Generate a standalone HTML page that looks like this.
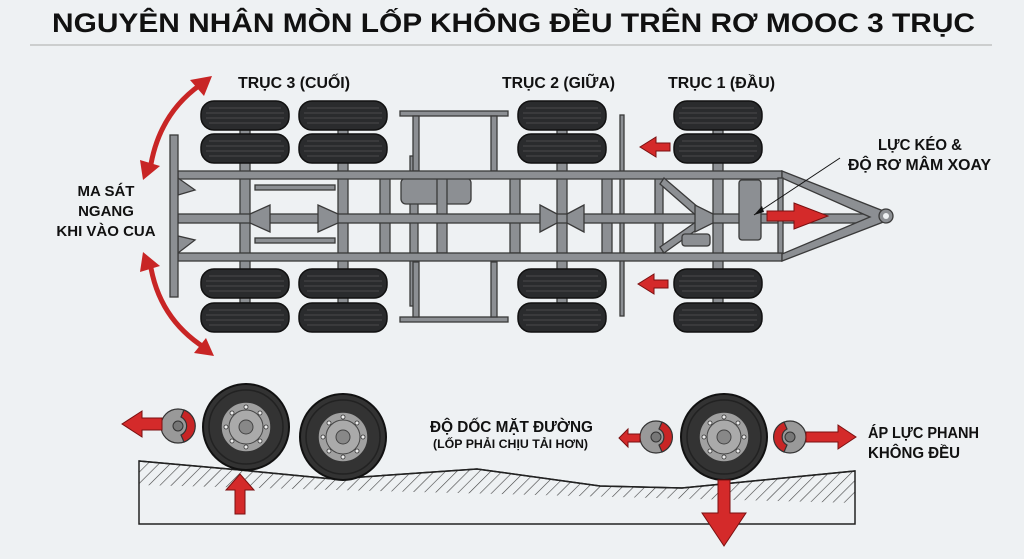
<!DOCTYPE html>
<html><head><meta charset="utf-8"><style>
html,body{margin:0;padding:0;background:#eef1f3;}
svg{display:block;}
text{font-family:"Liberation Sans","Noto Sans CJK SC",sans-serif;font-weight:bold;fill:#111;}
</style></head><body>
<svg width="1024" height="559" viewBox="0 0 1024 559" xmlns="http://www.w3.org/2000/svg">
<defs>
<pattern id="hatch" width="8" height="8" patternUnits="userSpaceOnUse" patternTransform="rotate(45)">
<line x1="0" y1="0" x2="0" y2="8" stroke="#222" stroke-width="1.2"/>
</pattern>
<g id="tire"><rect x="0" y="0" width="88" height="29" rx="13" fill="#2a2b2d" stroke="#111" stroke-width="1.5"/>
<g stroke="#555" stroke-width="0.8"><line x1="8" y1="7" x2="80" y2="7"/><line x1="5" y1="12" x2="83" y2="12"/><line x1="5" y1="17" x2="83" y2="17"/><line x1="8" y1="22" x2="80" y2="22"/></g></g>
<g id="wheel"><circle r="43" fill="#333" stroke="#111" stroke-width="2"/><circle r="37" fill="none" stroke="#222" stroke-width="1.5"/><circle r="25" fill="#a0a0a0" stroke="#333" stroke-width="1.5"/><circle r="17" fill="#aaa" stroke="#444"/><circle r="7" fill="#888" stroke="#444"/>
<g fill="#eee" stroke="#333" stroke-width="0.8"><circle cx="0" cy="-20" r="2"/><circle cx="0" cy="20" r="2"/><circle cx="-20" cy="0" r="2"/><circle cx="20" cy="0" r="2"/><circle cx="14" cy="14" r="2"/><circle cx="-14" cy="14" r="2"/><circle cx="14" cy="-14" r="2"/><circle cx="-14" cy="-14" r="2"/></g></g>
</defs>
<text x="52" y="32" font-size="27" textLength="923" lengthAdjust="spacingAndGlyphs">NGUYÊN NHÂN MÒN LỐP KHÔNG ĐỀU TRÊN RƠ MOOC 3 TRỤC</text>
<line x1="30" y1="45" x2="992" y2="45" stroke="#aaa" stroke-width="1"/>

<g fill="#8c8f93" stroke="#3a3a3a" stroke-width="1.3">
<rect x="410" y="156" width="8" height="150"/>
<rect x="400" y="111" width="108" height="5"/><rect x="413" y="116" width="6" height="55"/><rect x="491" y="116" width="6" height="55"/>
<rect x="400" y="317" width="108" height="5"/><rect x="413" y="262" width="6" height="55"/><rect x="491" y="262" width="6" height="55"/>
<rect x="620" y="115" width="4" height="201"/>
<rect x="401" y="178" width="70" height="26" rx="5"/>
<rect x="240" y="130" width="10" height="173"/><rect x="338" y="130" width="10" height="173"/><rect x="557" y="130" width="10" height="173"/><rect x="713" y="130" width="10" height="173"/>
<rect x="380" y="178" width="10" height="75"/><rect x="437" y="178" width="10" height="75"/><rect x="510" y="178" width="10" height="75"/><rect x="602" y="178" width="10" height="75"/><rect x="655" y="178" width="8" height="75"/>
<rect x="255" y="185" width="80" height="5"/><rect x="255" y="238" width="80" height="5"/>
<rect x="178" y="214" width="700" height="9"/>
<rect x="178" y="171" width="604" height="8"/><rect x="178" y="253" width="604" height="8"/>
<polygon points="782,171 886,212 886,221 782,261 782,254 870,217 782,178"/>
<polygon points="664,178 706,214 700,219 660,184"/><polygon points="664,253 706,223 700,219 660,247"/>
<polygon points="178,178 195,190 178,195"/><polygon points="178,253 195,240 178,236"/>
<polygon points="250,214 270,205 270,232 250,223"/><polygon points="338,214 318,205 318,232 338,223"/>
<polygon points="557,214 540,205 540,232 557,223"/><polygon points="567,214 584,205 584,232 567,223"/>
<polygon points="713,214 695,205 695,232 713,223"/>
<rect x="170" y="135" width="8" height="162"/>
<rect x="778" y="178" width="5" height="75"/>
<rect x="739" y="180" width="22" height="60" rx="3"/><rect x="682" y="234" width="28" height="12" rx="3"/>
<circle cx="886" cy="216" r="7"/>
</g>
<circle cx="886" cy="216" r="3" fill="#eef1f3"/>
<line x1="840" y1="158" x2="754" y2="215" stroke="#111" stroke-width="1"/>
<polygon points="754,215 762,206 764,212" fill="#111"/>

<use href="#tire" x="201" y="101"/><use href="#tire" x="201" y="134"/><use href="#tire" x="201" y="269"/><use href="#tire" x="201" y="303"/>
<use href="#tire" x="299" y="101"/><use href="#tire" x="299" y="134"/><use href="#tire" x="299" y="269"/><use href="#tire" x="299" y="303"/>
<use href="#tire" x="518" y="101"/><use href="#tire" x="518" y="134"/><use href="#tire" x="518" y="269"/><use href="#tire" x="518" y="303"/>
<use href="#tire" x="674" y="101"/><use href="#tire" x="674" y="134"/><use href="#tire" x="674" y="269"/><use href="#tire" x="674" y="303"/>

<g fill="#d42a2a" stroke="#7a1010" stroke-width="1">
<polygon points="670,143 656,143 656,137 640,147 656,157 656,151 670,151"/>
<polygon points="668,280 654,280 654,274 638,284 654,294 654,288 668,288"/>
<polygon points="767,211 794,211 794,203 828,216 794,229 794,221 767,221"/>
</g>
<g fill="none" stroke="#c82525" stroke-width="5">
<path d="M200,85 Q158,115 150,170"/>
<path d="M150,262 Q158,318 205,348"/>
</g>
<g fill="#c82525">
<polygon points="212,76 190,80 204,96"/><polygon points="143,180 140,160 160,166"/>
<polygon points="143,252 160,266 140,272"/><polygon points="214,356 194,353 206,338"/>
</g>

<text x="238" y="88" font-size="16" textLength="112" lengthAdjust="spacingAndGlyphs">TRỤC 3 (CUỐI)</text>
<text x="502" y="88" font-size="16" textLength="113" lengthAdjust="spacingAndGlyphs">TRỤC 2 (GIỮA)</text>
<text x="668" y="88" font-size="16" textLength="107" lengthAdjust="spacingAndGlyphs">TRỤC 1 (ĐẦU)</text>
<text x="878" y="150" font-size="16" textLength="84" lengthAdjust="spacingAndGlyphs">LỰC KÉO &amp;</text>
<text x="848" y="170" font-size="16" textLength="143" lengthAdjust="spacingAndGlyphs">ĐỘ RƠ MÂM XOAY</text>
<text x="106" y="196" font-size="15" text-anchor="middle">MA SÁT</text>
<text x="106" y="216" font-size="15" text-anchor="middle">NGANG</text>
<text x="106" y="236" font-size="15" text-anchor="middle">KHI VÀO CUA</text>

<polygon points="139,461 240,470 333,479 477,469 600,486 682,488 855,471 855,524 139,524" fill="#eef1f3" stroke="#222" stroke-width="1.5"/>
<polygon points="139,461 240,470 333,479 477,469 600,486 682,488 855,471 855,503 139,485" fill="url(#hatch)" opacity="0.85"/>
<polyline points="139,461 240,470 333,479 477,469 600,486 682,488 855,471" fill="none" stroke="#222" stroke-width="1.5"/>

<use href="#wheel" x="246" y="427"/><use href="#wheel" x="343" y="437"/><use href="#wheel" x="724" y="437"/>

<g stroke="#333" stroke-width="1.2">
<circle cx="178" cy="426" r="17" fill="#999"/><path d="M184,410 A17,17 0 0 1 184,442 L181,435 A10,10 0 0 0 181,417 Z" fill="#c82525"/>
<circle cx="656" cy="437" r="16" fill="#999"/><path d="M662,422 A16,16 0 0 1 662,452 L659,445 A9,9 0 0 0 659,429 Z" fill="#c82525"/>
<circle cx="790" cy="437" r="16" fill="#999"/><path d="M784,422 A16,16 0 0 0 784,452 L787,445 A9,9 0 0 1 787,429 Z" fill="#c82525"/>
</g>
<g fill="#777" stroke="#333"><circle cx="178" cy="426" r="5"/><circle cx="656" cy="437" r="5"/><circle cx="790" cy="437" r="5"/></g>
<g fill="#d42a2a" stroke="#7a1010" stroke-width="1">
<polygon points="162,418 142,418 142,411 122,424 142,437 142,430 162,430"/>
<polygon points="640,434 628,434 628,429 619,438 628,447 628,442 640,442"/>
<polygon points="806,432 838,432 838,425 856,437 838,449 838,442 806,442"/>
<polygon points="235,514 235,490 226,490 240,474 254,490 245,490 245,514"/>
<polygon points="718,480 718,513 702,513 724,546 746,513 730,513 730,480"/>
</g>
<text x="430" y="432" font-size="16" textLength="163" lengthAdjust="spacingAndGlyphs">ĐỘ DỐC MẶT ĐƯỜNG</text>
<text x="433" y="448" font-size="12" textLength="155" lengthAdjust="spacingAndGlyphs">(LỐP PHẢI CHỊU TẢI HƠN)</text>
<text x="868" y="438" font-size="16" textLength="111" lengthAdjust="spacingAndGlyphs">ÁP LỰC PHANH</text>
<text x="868" y="458" font-size="16" textLength="92" lengthAdjust="spacingAndGlyphs">KHÔNG ĐỀU</text>
</svg>
</body></html>
